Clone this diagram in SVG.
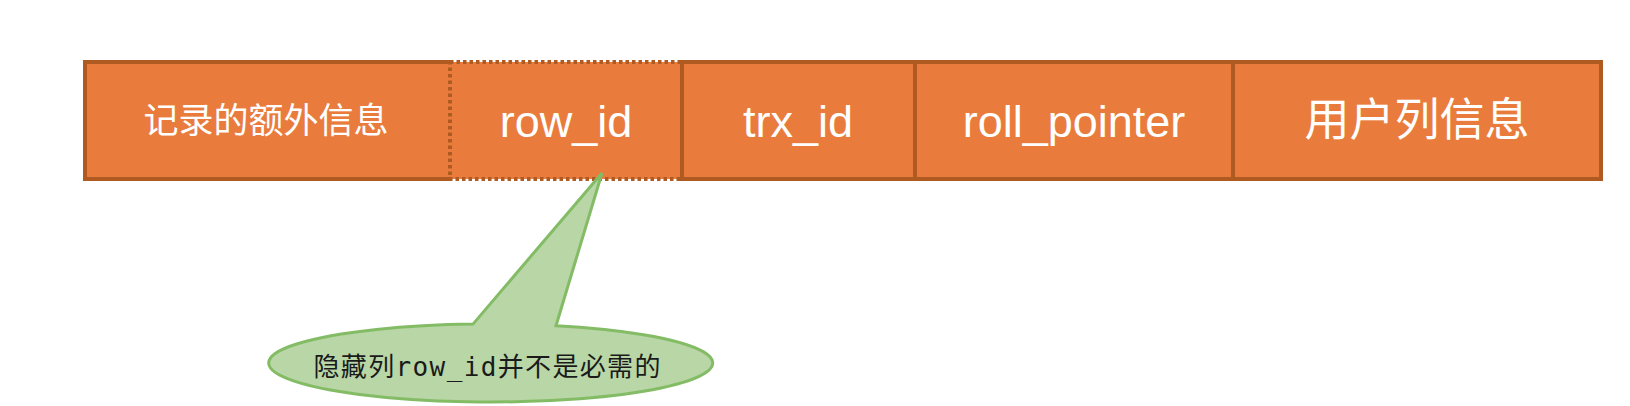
<svg xmlns="http://www.w3.org/2000/svg" width="1630" height="406" viewBox="0 0 1630 406">
<style>
.cell{fill:#E97C3C;stroke:#AE5A21;stroke-width:4}
.dot{fill:#E97C3C;stroke:#AE5A21;stroke-width:4;stroke-dasharray:3.5 3}
.lbl{fill:#FFFFFF;font-family:"Liberation Sans","Noto Sans CJK SC",sans-serif;text-anchor:middle}
.cjk{fill:#FFFFFF;font-family:"Noto Sans CJK SC",sans-serif;text-anchor:middle}
.note{fill:#1A1A1A;font-family:"DejaVu Sans Mono","Noto Sans CJK SC",monospace;font-size:26px;text-anchor:middle}
</style>
<rect width="1630" height="406" fill="#FFFFFF"/>
<g id="extra">
<rect x="85" y="62" width="365" height="117" fill="#E97C3C"/>
<path d="M450 62 H85 V179 H450" fill="none" stroke="#AE5A21" stroke-width="4"/>
<text class="cjk" x="266" y="133" font-size="35">记录的额外信息</text>
</g>
<g id="row_id">
<rect class="dot" x="450" y="62" width="232" height="117"/>
<text class="lbl" x="566" y="137" font-size="45">row_id</text>
</g>
<g id="trx_id">
<rect class="cell" x="682" y="62" width="233" height="117"/>
<text class="lbl" x="798" y="137" font-size="45">trx_id</text>
</g>
<g id="roll_pointer">
<rect class="cell" x="915" y="62" width="318" height="117"/>
<text class="lbl" x="1074" y="137" font-size="45">roll_pointer</text>
</g>
<g id="user_cols">
<rect class="cell" x="1233" y="62" width="368" height="117"/>
<text class="cjk" x="1417" y="136" font-size="45">用户列信息</text>
</g>
<g id="connectors">
<path d="M602 173 L556 325.7 A222 39 0 1 1 473 324.1 Z" fill="#B8D6A6" stroke="#84BC66" stroke-width="3" stroke-linejoin="miter"/>
</g>
<g id="note">
<text class="note" x="487" y="376" textLength="347" lengthAdjust="spacing">隐藏列row_id并不是必需的</text>
</g>
</svg>
